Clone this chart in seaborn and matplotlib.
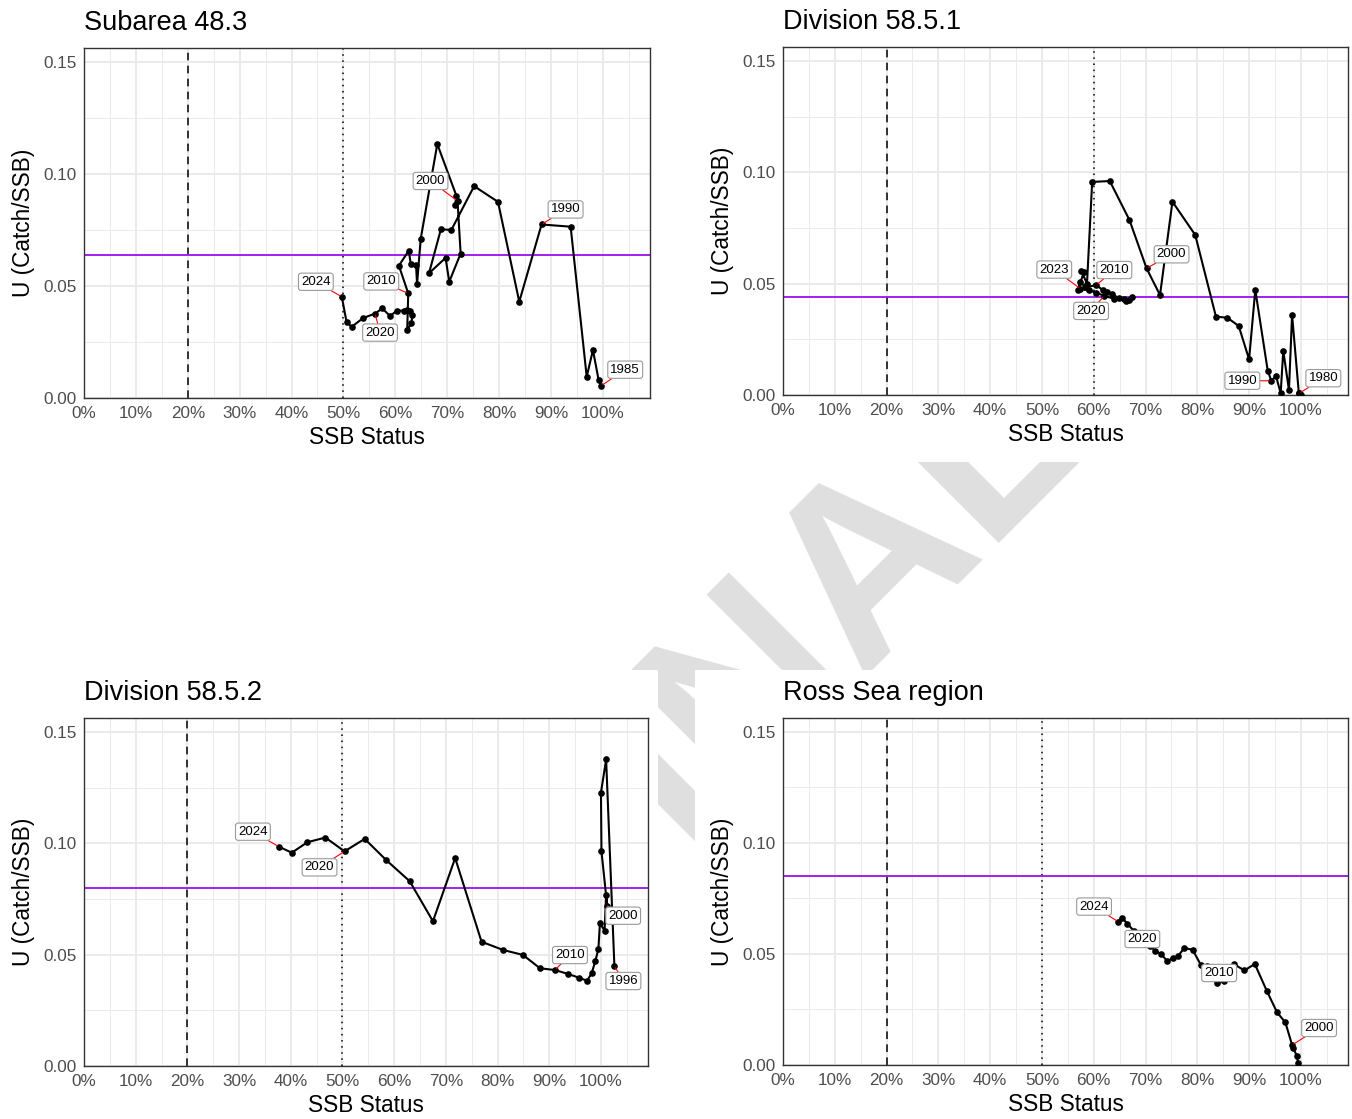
import matplotlib
matplotlib.use("Agg")
import matplotlib.pyplot as plt
from matplotlib.patches import Rectangle
from matplotlib.ticker import MultipleLocator, FuncFormatter
import seaborn as sns
import pandas as pd

# ---- data (SSB status in %, U = catch/SSB) ----
sa483_year = list(range(1985, 2025))
sa483_ssb = [99.7, 99.2, 98.1, 96.9, 93.8, 88.2, 83.9, 79.8, 75.2, 70.8,
             68.8, 66.5, 69.7, 70.4, 72.6, 72.0, 71.5, 71.8, 68.1, 64.9,
             64.2, 64.0, 63.0, 62.6, 60.7, 62.5, 62.3, 63.1, 63.3, 62.8,
             62.2, 61.7, 60.3, 59.0, 57.5, 56.1, 53.8, 51.6, 50.6, 49.7]
sa483_u = [0.0055, 0.0080, 0.0214, 0.0095, 0.0765, 0.0775, 0.0430, 0.0876, 0.0946, 0.0750,
           0.0754, 0.0557, 0.0626, 0.0519, 0.0645, 0.0880, 0.0860, 0.0902, 0.1134, 0.0710,
           0.0509, 0.0594, 0.0597, 0.0658, 0.0591, 0.0467, 0.0304, 0.0333, 0.0370, 0.0390,
           0.0395, 0.0390, 0.0390, 0.0366, 0.0400, 0.0377, 0.0357, 0.0318, 0.0340, 0.0452]

d5851_year = list(range(1980, 2024))
d5851_ssb = [99.7, 99.9, 100.0, 99.8, 99.6, 98.3, 97.7, 96.6, 96.1, 95.2,
             94.3, 93.6, 91.2, 90.0, 88.0, 85.8, 83.6, 79.6, 75.2, 72.8,
             70.2, 66.9, 63.1, 59.7, 58.7, 57.6, 58.1, 57.0, 57.4, 58.4,
             60.5, 61.7, 62.6, 63.5, 64.9, 65.8, 66.8, 67.4, 66.2, 64.0,
             62.0, 60.5, 59.0, 57.4]
d5851_u = [0.0008, 0.0003, 0.0002, 0.0005, 0.0010, 0.0359, 0.0022, 0.0199, 0.0008, 0.0085,
           0.0064, 0.0109, 0.0472, 0.0160, 0.0310, 0.0347, 0.0352, 0.0719, 0.0868, 0.0449,
           0.0569, 0.0786, 0.0961, 0.0957, 0.0500, 0.0558, 0.0554, 0.0472, 0.0509, 0.0483,
           0.0494, 0.0472, 0.0464, 0.0454, 0.0434, 0.0429, 0.0428, 0.0441, 0.0424, 0.0432,
           0.0445, 0.0460, 0.0470, 0.0478]

d5852_year = list(range(1996, 2025))
d5852_ssb = [102.6, 101.0, 100.0, 100.1, 101.2, 101.0, 100.7, 99.8, 99.5, 98.9,
             98.2, 97.3, 95.7, 93.7, 91.1, 88.2, 84.9, 81.1, 76.9, 71.8,
             67.5, 63.0, 58.5, 54.3, 50.4, 46.7, 43.2, 40.2, 37.7]
d5852_u = [0.0449, 0.1377, 0.1228, 0.0964, 0.0720, 0.0770, 0.0608, 0.0641, 0.0524, 0.0471,
           0.0416, 0.0383, 0.0397, 0.0413, 0.0431, 0.0439, 0.0499, 0.0521, 0.0558, 0.0934,
           0.0650, 0.0830, 0.0924, 0.1020, 0.0964, 0.1026, 0.1005, 0.0958, 0.0985]

ross_year = list(range(1998, 2025))
ross_ssb = [99.5, 99.2, 98.3, 98.5, 97.0, 95.4, 93.4, 91.1, 89.1, 87.0,
            85.2, 83.8, 81.9, 80.7, 79.1, 77.5, 76.2, 75.3, 74.2, 73.0,
            71.9, 70.9, 69.2, 67.7, 66.5, 65.4, 64.7]
ross_u = [0.0008, 0.0041, 0.0090, 0.0075, 0.0192, 0.0237, 0.0335, 0.0455, 0.0426, 0.0455,
          0.0377, 0.0369, 0.0446, 0.0450, 0.0519, 0.0527, 0.0489, 0.0481, 0.0468, 0.0500,
          0.0514, 0.0536, 0.0572, 0.0605, 0.0637, 0.0664, 0.0646]

titles = ["Subarea 48.3", "Division 58.5.1", "Division 58.5.2", "Ross Sea region"]
u_target = [0.0637, 0.0440, 0.0799, 0.0851]
status_line = [50, 60, 50, 50]

# label offsets in pixels (x right, y up) from the labelled point
label_offsets = [
    {1985: (24, 16), 1990: (24, 15), 2000: (-27, 20), 2010: (-27, 12), 2020: (5, -19), 2024: (-26, 15)},
    {1980: (24, 15), 1990: (-29, 0), 2000: (25, 14), 2010: (18, 15), 2020: (-13, -15), 2023: (-26, 19)},
    {1996: (9, -15), 2000: (16, -10), 2010: (15, 15), 2020: (-25, -16), 2024: (-26, 15)},
    {2000: (27, 17), 2010: (12, -7), 2020: (1, -1), 2024: (-24, 15)},
]

series = [(sa483_year, sa483_ssb, sa483_u),
          (d5851_year, d5851_ssb, d5851_u),
          (d5852_year, d5852_ssb, d5852_u),
          (ross_year, ross_ssb, ross_u)]

W, H = 1352, 1119
# panel boxes in pixels: left, top, right, bottom
panel_px = [(84, 48, 650, 398), (783, 47, 1348, 395),
            (84, 718, 648, 1066), (783, 718, 1348, 1065)]
# areas covered by each ggplot panel image (hide the watermark there)
cover_px = [(0, 0, 660, 462), (695, 0, W, 462), (0, 670, 658, H), (695, 670, W, H)]

sns.set_style("white")
plt.rcParams['font.family'] = ['Liberation Sans', 'DejaVu Sans']

fig = plt.figure(figsize=(W / 100, H / 100), dpi=100)
fig.patch.set_facecolor('white')

# watermark behind the panels
fig.text(832 / W, 1 - 692 / H, "FINAL", fontsize=178, fontweight='bold',
         color='#DFDFDF', rotation=45, rotation_mode='anchor',
         ha='center', va='baseline', zorder=-2)
for x0, y0, x1, y1 in cover_px:
    fig.add_artist(Rectangle((x0 / W, 1 - y1 / H), (x1 - x0) / W, (y1 - y0) / H,
                             transform=fig.transFigure, facecolor='white',
                             edgecolor='none', zorder=-1))

for i in range(4):
    l, t, r, b = panel_px[i]
    ax = fig.add_axes([l / W, 1 - b / H, (r - l) / W, (b - t) / H])
    years, ssb, u = series[i]
    df = pd.DataFrame({'year': years, 'ssb': ssb, 'u': u})

    ax.set_facecolor('white')
    ax.set_xlim(0, 109.1)
    ax.set_ylim(0, 0.1563)
    ax.set_xticks(range(0, 101, 10))
    ax.set_yticks([0, 0.05, 0.10, 0.15])
    ax.xaxis.set_minor_locator(MultipleLocator(5))
    ax.yaxis.set_minor_locator(MultipleLocator(0.025))
    ax.xaxis.set_major_formatter(FuncFormatter(lambda v, p: f"{v:.0f}%"))
    ax.yaxis.set_major_formatter(FuncFormatter(lambda v, p: f"{v:.2f}"))
    ax.grid(which='major', color='#EBEBEB', lw=1.4)
    ax.grid(which='minor', color='#EBEBEB', lw=0.7)
    ax.set_axisbelow(True)
    ax.tick_params(which='major', length=3, width=1, color='#333333',
                   labelsize=12.3, labelcolor='#4D4D4D', pad=2.5)
    ax.tick_params(which='minor', length=0)
    for s in ax.spines.values():
        s.set_color('#333333')
        s.set_linewidth(1)

    ax.axvline(20, color='black', ls=(0, (5, 3.5)), lw=1.1)
    ax.axvline(status_line[i], color='black', ls=(0, (1, 3)), lw=1.1)
    ax.axhline(u_target[i], color='#A020F0', lw=1.4)

    sns.lineplot(data=df, x='ssb', y='u', sort=False, estimator=None,
                 color='black', lw=1.5, marker='o', markersize=4.8,
                 markeredgewidth=0, ax=ax, zorder=3)

    for yr, (dx, dy) in label_offsets[i].items():
        row = df[df['year'] == yr].iloc[0]
        ax.annotate(str(yr), xy=(row['ssb'], row['u']), xytext=(dx, dy),
                    textcoords='offset pixels', ha='center', va='center',
                    fontsize=9.5, color='black', zorder=5,
                    bbox=dict(boxstyle='round,pad=0.2,rounding_size=0.2',
                              fc='white', ec='#9A9A9A', lw=0.8),
                    arrowprops=dict(arrowstyle='-', color='red', lw=0.8,
                                    shrinkA=0, shrinkB=1.5))

    ax.set_title(titles[i], loc='left', fontsize=19.5, pad=13, color='black')
    ax.set_xlabel('SSB Status', fontsize=16.3, labelpad=4, color='black')
    ax.set_ylabel('U (Catch/SSB)', fontsize=16.3, labelpad=6, color='black')

fig.savefig('out.png', dpi=100, facecolor='white')
